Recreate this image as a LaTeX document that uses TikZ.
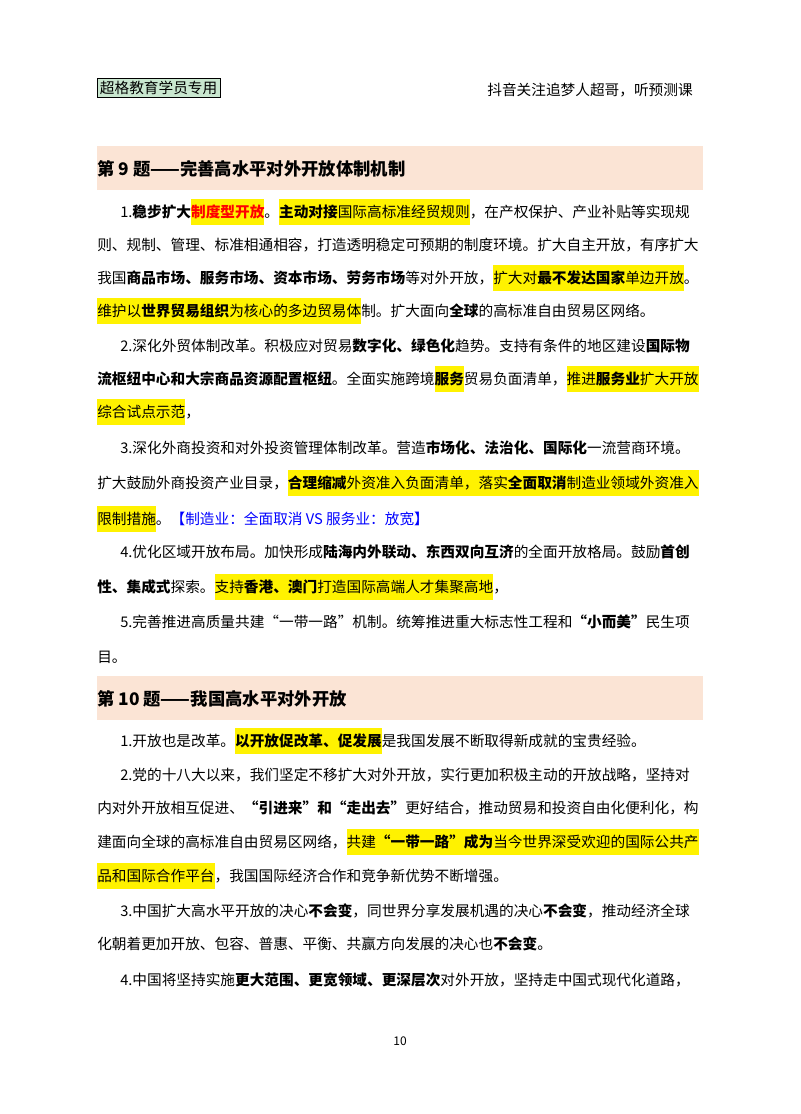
\documentclass[tikz,border=0pt]{standalone}
\usepackage{fontspec}
\setmainfont{Noto Sans CJK SC}
\usepackage{xcolor}
\XeTeXlinebreaklocale "zh"
\XeTeXlinebreakskip=0pt plus 3pt
\definecolor{titlebg}{HTML}{FBE4D5}
\definecolor{tagbg}{HTML}{C9E7CF}
\newcommand\hl[1]{{\setlength\fboxsep{0pt}\colorbox{yellow}{\rule[-6pt]{0pt}{19.5pt}#1}}}
\newcommand\B[1]{\textbf{#1}}
\newcommand\fla[1]{\makebox[437pt][s]{#1}}
\newcommand\flb[1]{\makebox[454pt][s]{#1}}
\tikzset{ln/.style={anchor=base west,inner sep=0pt,font=\fontsize{11pt}{13pt}\selectfont},
 ttl/.style={anchor=base west,inner sep=0pt,font=\fontsize{13pt}{15pt}\selectfont\bfseries}}
\begin{document}
\begin{tikzpicture}[x=0.75pt,y=-0.75pt]
\useasboundingbox[fill=white] (0,0) rectangle (800,1114);
\node[draw,fill=tagbg,inner sep=2pt,anchor=west,font=\fontsize{11pt}{13pt}\selectfont] (tag) at (97,88) {超格教育学员专用};
\node[anchor=east,inner sep=0pt,font=\fontsize{11pt}{13pt}\selectfont] (rh) at (693,90) {抖音关注追梦人超哥，听预测课};
\fill[titlebg] (97,146) rectangle (703,190);
\node[ttl] (t9) at (97,175) {第 9 题——完善高水平对外开放体制机制};
% para 1
\node[ln] (a1) at (120,217) {\fla{1.\B{稳步扩大}\hl{\textcolor{red}{\B{制度型开放}}}。\hl{\B{主动对接}国际高标准经贸规则}，在产权保护、产业补贴等实现规}};
\node[ln] (a2) at (97,250) {\flb{则、规制、管理、标准相通相容，打造透明稳定可预期的制度环境。扩大自主开放，有序扩大}};
\node[ln] (a3) at (97,283) {\flb{我国\B{商品市场、服务市场、资本市场、劳务市场}等对外开放，\hl{扩大对\B{最不发达国家}单边开放}。}};
\node[ln] (a4) at (97,316) {\hl{维护以\B{世界贸易组织}为核心的多边贸易体}制。扩大面向\B{全球}的高标准自由贸易区网络。};
% para 2
\node[ln] (b1) at (120,351) {\fla{2.深化外贸体制改革。积极应对贸易\B{数字化、绿色化}趋势。支持有条件的地区建设\B{国际物}}};
\node[ln] (b2) at (97,384) {\flb{\B{流枢纽中心和大宗商品资源配置枢纽}。全面实施跨境\hl{\B{服务}}贸易负面清单，\hl{推进\B{服务业}扩大开放}}};
\node[ln] (b3) at (97,417) {\hl{综合试点示范}，};
% para 3
\node[ln] (c1) at (120,453) {\fla{3.深化外商投资和对外投资管理体制改革。营造\B{市场化、法治化、国际化}一流营商环境。}};
\node[ln] (c2) at (97,488) {\flb{扩大鼓励外商投资产业目录，\hl{\B{合理缩减}外资准入负面清单，落实\B{全面取消}制造业领域外资准入}}};
\node[ln] (c3) at (97,524) {\hl{限制措施}。\textcolor{blue}{【制造业：全面取消 VS 服务业：放宽】}};
% para 4
\node[ln] (d1) at (120,557) {\fla{4.优化区域开放布局。加快形成\B{陆海内外联动、东西双向互济}的全面开放格局。鼓励\B{首创}}};
\node[ln] (d2) at (97,592) {\B{性、集成式}探索。\hl{支持\B{香港、澳门}打造国际高端人才集聚高地}，};
% para 5
\node[ln] (e1) at (120,627) {\fla{5.完善推进高质量共建“一带一路”机制。统筹推进重大标志性工程和\B{“小而美”}民生项}};
\node[ln] (e2) at (97,662) {目。};
\fill[titlebg] (97,676) rectangle (703,720);
\node[ttl] (t10) at (97,705) {第 10 题——我国高水平对外开放};
\node[ln] (f1) at (120,746) {1.开放也是改革。\hl{\B{以开放促改革、促发展}}是我国发展不断取得新成就的宝贵经验。};
\node[ln] (g1) at (120,780) {\fla{2.党的十八大以来，我们坚定不移扩大对外开放，实行更加积极主动的开放战略，坚持对}};
\node[ln] (g2) at (97,813) {\flb{内对外开放相互促进、\B{“引进来”和“走出去”}更好结合，推动贸易和投资自由化便利化，构}};
\node[ln] (g3) at (97,847) {\flb{建面向全球的高标准自由贸易区网络，\hl{共建\B{“一带一路”成为}当今世界深受欢迎的国际公共产}}};
\node[ln] (g4) at (97,881) {\hl{品和国际合作平台}，我国国际经济合作和竞争新优势不断增强。};
\node[ln] (h1) at (120,916) {\fla{3.中国扩大高水平开放的决心\B{不会变}，同世界分享发展机遇的决心\B{不会变}，推动经济全球}};
\node[ln] (h2) at (97,949) {化朝着更加开放、包容、普惠、平衡、共赢方向发展的决心也\B{不会变}。};
\node[ln] (i1) at (120,985) {\fla{4.中国将坚持实施\B{更大范围、更宽领域、更深层次}对外开放，坚持走中国式现代化道路，}};
\node[anchor=center,inner sep=0pt,font=\fontsize{9pt}{11pt}\selectfont] (pg) at (400,1041) {10};
\end{tikzpicture}
\end{document}
